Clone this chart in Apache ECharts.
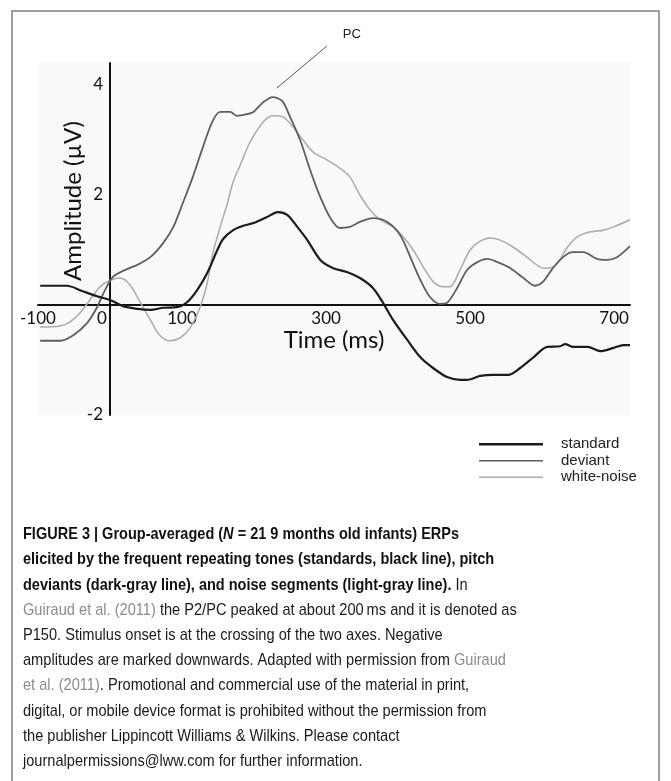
<!DOCTYPE html>
<html><head><meta charset="utf-8">
<script src="https://cdn.jsdelivr.net/npm/echarts@6/dist/echarts.min.js"></script>
<style>html,body{margin:0;padding:0;background:#fff}#c{width:671px;height:781px}</style>
</head><body><div id="c"></div>
<script>
// ---- data (time in ms, amplitude in µV) ----
const xTickLabels = [-100, 0, 100, 300, 500, 700];
const yTickLabels = [-2, 2, 4];
const seriesNames = ['standard', 'deviant', 'white-noise'];

const standardT = [-97,-60,-38,-18,0,18,38,56,74,93,107,121,135,149,157,171,185,199,218,233,246,260,274,292,310,329,347,365,379,393,413,431,449,468,486,496,514,532,553,569,588,607,625,632,643,663,681,699,713,722];
const standardV = [0.35,0.35,0.25,0.16,0.09,-0.02,-0.07,-0.09,-0.05,-0.04,0.05,0.27,0.58,1.0,1.2,1.36,1.44,1.49,1.6,1.69,1.64,1.42,1.18,0.82,0.67,0.6,0.49,0.31,0.04,-0.27,-0.64,-0.95,-1.15,-1.31,-1.36,-1.36,-1.29,-1.27,-1.27,-1.15,-0.95,-0.76,-0.75,-0.71,-0.76,-0.76,-0.84,-0.78,-0.73,-0.73];

const deviantT = [-97,-69,-51,-32,-18,-7,4,18,38,56,74,88,101,115,129,142,153,167,176,190,199,213,226,239,250,264,278,292,306,319,333,347,365,385,403,417,431,444,458,468,482,496,510,524,538,556,574,590,601,615,629,642,657,676,690,704,722];
const deviantV = [-0.65,-0.65,-0.55,-0.33,-0.04,0.27,0.51,0.62,0.73,0.87,1.13,1.42,1.85,2.33,2.87,3.33,3.51,3.51,3.44,3.47,3.51,3.69,3.78,3.71,3.42,3.0,2.45,1.96,1.58,1.4,1.42,1.51,1.58,1.51,1.27,0.87,0.45,0.15,0.02,0.04,0.31,0.64,0.78,0.84,0.78,0.67,0.49,0.35,0.42,0.67,0.87,0.96,0.96,0.84,0.82,0.87,1.07];

const noiseT = [-97,-69,-56,-42,-28,-14,0,14,28,42,56,69,83,97,111,125,135,143,153,163,171,181,194,213,226,240,254,268,282,301,319,333,347,361,375,393,407,421,435,449,463,472,486,500,514,528,542,560,579,597,608,621,635,649,667,685,699,722];
const noiseV = [-0.4,-0.38,-0.31,-0.15,0.09,0.33,0.45,0.49,0.36,0.05,-0.27,-0.55,-0.65,-0.6,-0.42,-0.04,0.4,0.95,1.42,1.85,2.24,2.55,2.95,3.33,3.44,3.42,3.24,3.0,2.78,2.64,2.49,2.33,2.0,1.73,1.55,1.42,1.24,1.0,0.69,0.42,0.33,0.33,0.64,1.0,1.16,1.22,1.18,1.05,0.87,0.69,0.67,0.76,1.05,1.24,1.33,1.36,1.42,1.55];

const captionLines = [
  '{b|FIGURE 3 | Group-averaged (}{bi|N}{b| = 21 9 months old infants) ERPs}',
  '{b|elicited by the frequent repeating tones (standards, black line), pitch}',
  '{b|deviants (dark-gray line), and noise segments (light-gray line).}{r| In}',
  '{g|Guiraud et al. (2011)}{r| the P2/PC peaked at about 200\u2009ms and it is denoted as}',
  '{r|P150. Stimulus onset is at the crossing of the two axes. Negative}',
  '{r|amplitudes are marked downwards. Adapted with permission from }{g|Guiraud}',
  '{g|et al. (2011)}{r|. Promotional and commercial use of the material in print,}',
  '{r|digital, or mobile device format is prohibited without the permission from}',
  '{r|the publisher Lippincott Williams & Wilkins. Please contact}',
  '{r|journalpermissions@lww.com for further information.}'
];

// ---- chart ----
function pairs(t, v) { return t.map((x, i) => [x, v[i]]); }
const chart = echarts.init(document.getElementById('c'), null, {renderer: 'canvas'});
const axisFont = {fontFamily: 'Lato', fontSize: 17, color: '#111'};
const X_MIN = -100, X_MAX = 722, Y_MIN = -2, Y_MAX = 4.4;

const option = {
  animation: false,
  backgroundColor: '#ffffff',
  grid: {left: 38, right: 41, top: 63, bottom: 366, show: true, backgroundColor: '#f9f9f9', borderWidth: 0,
         outerBoundsMode: 'none', containLabel: false},
  xAxis: {
    type: 'value', min: X_MIN, max: X_MAX,
    axisLine: {onZero: false, lineStyle: {color: '#111', width: 2}},
    axisTick: {show: false},
    splitLine: {show: false},
    axisLabel: Object.assign({
      customValues: xTickLabels, margin: 5,
      formatter: v => v === 0 ? '{z|0}' : String(v),
      rich: {z: {fontFamily: 'Lato', fontSize: 17, color: '#111', padding: [0, 16, 0, 0]}}
    }, axisFont),
    name: 'Time (ms)', nameLocation: 'middle', nameGap: 23, nameMoveOverlap: false,
    nameTextStyle: {fontFamily: 'Lato', fontSize: 24, color: '#111'}
  },
  yAxis: {
    type: 'value', min: Y_MIN, max: Y_MAX,
    axisLine: {onZero: false, lineStyle: {color: '#111', width: 2}},
    axisTick: {show: false},
    splitLine: {show: false},
    axisLabel: Object.assign({customValues: yTickLabels, margin: 7}, axisFont),
    name: 'Amplitude (µV)', nameLocation: 'middle', nameGap: 25, nameMoveOverlap: false,
    nameTextStyle: {fontFamily: 'Lato', fontSize: 24, color: '#111', padding: [0, 0, 0, 76]}
  },
  legend: {
    orient: 'vertical', left: 474, top: 431, itemWidth: 64, itemHeight: 3, itemGap: 0,
    selectedMode: false,
    textStyle: {fontFamily: 'Liberation Sans', fontSize: 15, color: '#222', lineHeight: 16.5, padding: [0, 0, 0, 13]},
    data: [
      {name: seriesNames[0], icon: 'path://M0,0H64V2.6H0Z'},
      {name: seriesNames[1], icon: 'path://M0,0H64V1.6H0Z'},
      {name: seriesNames[2], icon: 'path://M0,0H64V1.4H0Z'}
    ]
  },
  series: [
    {name: seriesNames[2], type: 'line', data: pairs(noiseT, noiseV), showSymbol: false, smooth: 0.3,
     itemStyle: {color: '#ababab'}, lineStyle: {color: '#ababab', width: 1.5}, z: 2},
    {name: seriesNames[1], type: 'line', data: pairs(deviantT, deviantV), showSymbol: false, smooth: 0.3,
     itemStyle: {color: '#5f5f5f'}, lineStyle: {color: '#5f5f5f', width: 1.8}, z: 3},
    {name: seriesNames[0], type: 'line', data: pairs(standardT, standardV), showSymbol: false, smooth: 0.3,
     itemStyle: {color: '#1c1c1c'}, lineStyle: {color: '#1c1c1c', width: 2.2}, z: 4}
  ]
};
chart.setOption(option);

// place both axes (line + labels) so they cross at the stimulus onset (0 ms, 0 µV)
const origin = chart.convertToPixel({gridIndex: 0}, [0, 0]);
const gridLeftPx = chart.convertToPixel({xAxisIndex: 0}, X_MIN);
const gridBottomPx = chart.convertToPixel({yAxisIndex: 0}, Y_MIN);

// annotation "PC" anchored at the deviant peak via the chart's own scales
const peakIdx = deviantV.indexOf(Math.max.apply(null, deviantV));
const pk = chart.convertToPixel({gridIndex: 0}, [deviantT[peakIdx], deviantV[peakIdx]]);

chart.setOption({
  xAxis: {offset: -(gridBottomPx - origin[1])},
  yAxis: {offset: -(origin[0] - gridLeftPx)},
  graphic: [
    {type: 'rect', shape: {x: 12, y: 11, width: 647, height: 820},
     style: {fill: null, stroke: '#808080', lineWidth: 1.5}, silent: true},
    {type: 'line', shape: {x1: pk[0] + 4, y1: pk[1] - 9, x2: pk[0] + 54, y2: pk[1] - 51},
     style: {stroke: '#444', lineWidth: 0.9}},
    {type: 'text', x: pk[0] + 79, y: pk[1] - 63,
     style: {text: 'PC', fontFamily: 'Liberation Sans', fontSize: 13, fill: '#222', align: 'center', verticalAlign: 'middle'}},
    {type: 'group', x: 23, y: 522, scaleX: 0.88, children: [
      {type: 'text', x: 0, y: 0, style: {
        text: captionLines.join('\n'),
        fontFamily: 'Liberation Sans', fontSize: 16.6, fill: '#1a1a1a', lineHeight: 25.2,
        align: 'left', verticalAlign: 'top',
        rich: {
          b: {fontFamily: 'Liberation Sans', fontSize: 16.5, fontWeight: 'bold', fill: '#111', lineHeight: 25.2},
          bi: {fontFamily: 'Liberation Sans', fontSize: 16.5, fontWeight: 'bold', fontStyle: 'italic', fill: '#111', lineHeight: 25.2},
          r: {fontFamily: 'Liberation Sans', fontSize: 16.6, fill: '#1a1a1a', lineHeight: 25.2},
          g: {fontFamily: 'Liberation Sans', fontSize: 16.6, fill: '#8c8c8c', lineHeight: 25.2}
        }
      }}
    ]}
  ]
});
</script>
</body></html>
